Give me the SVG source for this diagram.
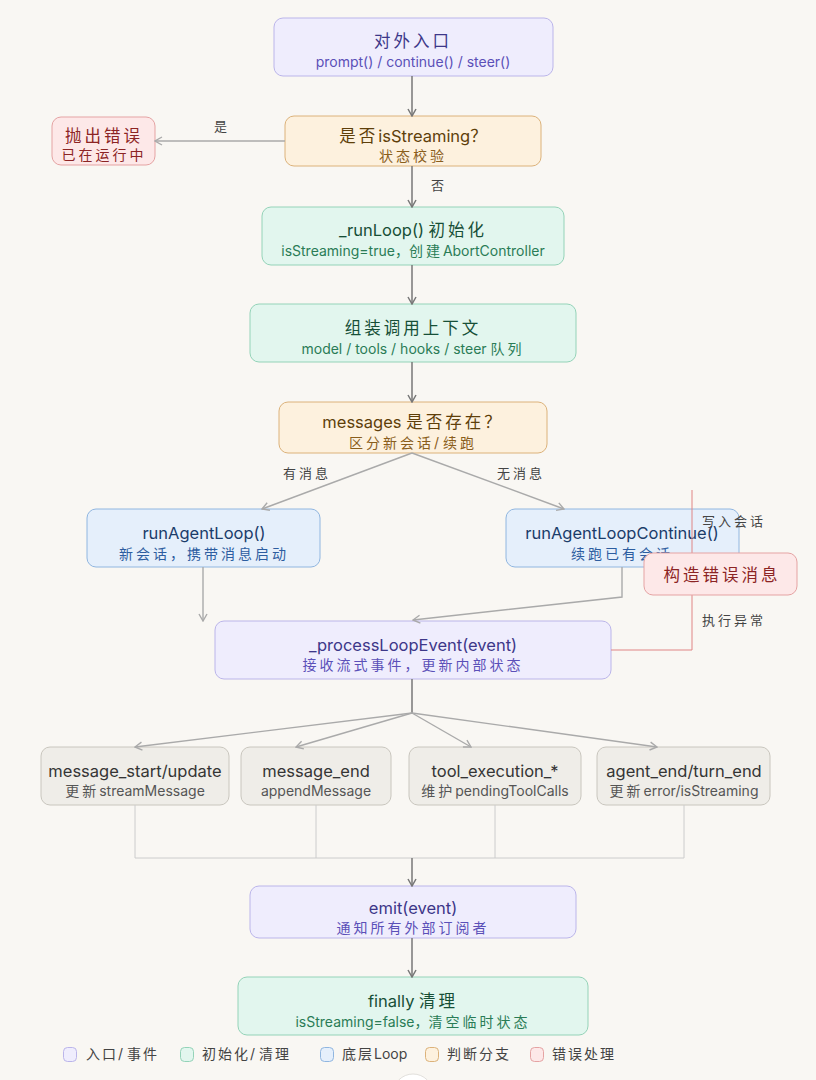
<svg xmlns="http://www.w3.org/2000/svg" width="816" height="1080" viewBox="0 0 816 1080">
<defs>
<style>
text{font-family:"Inter","Noto Sans CJK SC",sans-serif;text-anchor:middle}
.t{font-size:16.5px;font-weight:400}
.s{font-size:14px}
.cj{letter-spacing:3px}
.lbl{font-size:13px;fill:#444;letter-spacing:3px}
.lav rect{fill:#efedfd;stroke:#bbb5ea}
.lav .t{fill:#3d3789}.lav .s{fill:#5b50b8}
.org rect{fill:#fdf1de;stroke:#dcb27a}
.org .t{fill:#5e3f0a}.org .s{fill:#8a5e1c}
.grn rect{fill:#e2f6ee;stroke:#94d3b8}
.grn .t{fill:#174f37}.grn .s{fill:#2a7c56}
.blu rect{fill:#e5effb;stroke:#90b6e0}
.blu .t{fill:#1b3c6a}.blu .s{fill:#2d5da0}
.red rect{fill:#fde8e8;stroke:#e5a3a3}
.red .t{fill:#8c2424}.red .s{fill:#8c2424}
.gry rect{fill:#efede8;stroke:#c9c6be}
.gry .t{fill:#353535}.gry .s{fill:#555}
rect{stroke-width:1}
.dk{stroke:#777;stroke-width:1.5;fill:none}
.lt{stroke:#aaa;stroke-width:1.4;fill:none}
.th{stroke:#ccc;stroke-width:1;fill:none}
.rd{stroke:#e08585;stroke-width:1;fill:none}
.leg text{font-size:14px;fill:#444;text-anchor:start}
.leg .cj{letter-spacing:2px}
</style>
<marker id="ad" viewBox="0 0 10 10" refX="9" refY="5" markerWidth="10" markerHeight="10" markerUnits="userSpaceOnUse" orient="auto"><path d="M2,1 L9,5 L2,9" fill="none" stroke="#777" stroke-width="1.5"/></marker>
<marker id="al" viewBox="0 0 10 10" refX="9" refY="5" markerWidth="10" markerHeight="10" markerUnits="userSpaceOnUse" orient="auto"><path d="M2,1 L9,5 L2,9" fill="none" stroke="#aaa" stroke-width="1.4"/></marker>
</defs>
<rect width="816" height="1080" fill="#f9f7f3"/>

<g id="entry" class="lav"><rect x="274" y="18" width="279" height="58" rx="9"/>
<text class="t" x="413" y="47"><tspan class="cj">对外入口</tspan></text>
<text class="s" x="413" y="67">prompt() / continue() / steer()</text></g>

<g id="check" class="org"><rect x="285" y="116" width="256" height="50" rx="9"/>
<text class="t" x="413" y="142"><tspan class="cj">是否</tspan>isStreaming？</text>
<text class="s" x="413" y="161"><tspan class="cj">状态校验</tspan></text></g>

<g id="throw" class="red"><rect x="52" y="117" width="103" height="48" rx="9"/>
<text class="t" x="104" y="142"><tspan class="cj">抛出错误</tspan></text>
<text class="s" x="104" y="160"><tspan class="cj">已在运行中</tspan></text></g>

<g id="runloop" class="grn"><rect x="262" y="207" width="302" height="58" rx="9"/>
<text class="t" x="413" y="236">_runLoop() <tspan class="cj">初始化</tspan></text>
<text class="s" x="413" y="256">isStreaming=true，<tspan class="cj">创建</tspan>AbortController</text></g>

<g id="context" class="grn"><rect x="250" y="304" width="326" height="58" rx="9"/>
<text class="t" x="413" y="334"><tspan class="cj">组装调用上下文</tspan></text>
<text class="s" x="413" y="354">model / tools / hooks / steer <tspan class="cj">队列</tspan></text></g>

<g id="messages" class="org"><rect x="279" y="402" width="268" height="51" rx="9"/>
<text class="t" x="413" y="428">messages <tspan class="cj">是否存在？</tspan></text>
<text class="s" x="413" y="448"><tspan class="cj">区分新会话</tspan>/ <tspan class="cj">续跑</tspan></text></g>

<g id="agentloop" class="blu"><rect x="87" y="509" width="233" height="58" rx="9"/>
<text class="t" x="204" y="539">runAgentLoop()</text>
<text class="s" x="204" y="559"><tspan class="cj">新会话，携带消息启动</tspan></text></g>

<g id="agentloopcontinue" class="blu"><rect x="506" y="509" width="233" height="58" rx="9"/>
<text class="t" x="622" y="539">runAgentLoopContinue()</text>
<text class="s" x="622" y="559"><tspan class="cj">续跑已有会话</tspan></text></g>

<g id="process" class="lav"><rect x="215" y="621" width="396" height="58" rx="9"/>
<text class="t" x="413" y="651">_processLoopEvent(event)</text>
<text class="s" x="413" y="670"><tspan class="cj">接收流式事件，更新内部状态</tspan></text></g>

<g id="ev1" class="gry"><rect x="41" y="747" width="188" height="58" rx="9"/>
<text class="t" x="135" y="777">message_start/update</text>
<text class="s" x="135" y="796"><tspan class="cj">更新</tspan>streamMessage</text></g>

<g id="ev2" class="gry"><rect x="241" y="747" width="150" height="58" rx="9"/>
<text class="t" x="316" y="777">message_end</text>
<text class="s" x="316" y="796">appendMessage</text></g>

<g id="ev3" class="gry"><rect x="409" y="747" width="172" height="58" rx="9"/>
<text class="t" x="495" y="777">tool_execution_*</text>
<text class="s" x="495" y="796"><tspan class="cj">维护</tspan>pendingToolCalls</text></g>

<g id="ev4" class="gry"><rect x="597" y="747" width="173" height="58" rx="9"/>
<text class="t" x="684" y="777">agent_end/turn_end</text>
<text class="s" x="684" y="796"><tspan class="cj">更新</tspan>error/isStreaming</text></g>

<g id="emit" class="lav"><rect x="250" y="886" width="326" height="52" rx="9"/>
<text class="t" x="413" y="914">emit(event)</text>
<text class="s" x="413" y="933"><tspan class="cj">通知所有外部订阅者</tspan></text></g>

<g id="finally" class="grn"><rect x="238" y="977" width="350" height="58" rx="9"/>
<text class="t" x="413" y="1007">finally <tspan class="cj">清理</tspan></text>
<text class="s" x="413" y="1027">isStreaming=false，<tspan class="cj">清空临时状态</tspan></text></g>

<g id="connectors">
<path class="dk" d="M412,76 V116" marker-end="url(#ad)"/>
<path class="lt" d="M285,141 H155" marker-end="url(#al)"/>
<path class="dk" d="M412,166 V207" marker-end="url(#ad)"/>
<path class="dk" d="M412,265 V304" marker-end="url(#ad)"/>
<path class="dk" d="M412,362 V402" marker-end="url(#ad)"/>
<path class="lt" d="M412,453 L262,509" marker-end="url(#al)"/>
<path class="lt" d="M412,453 L564,509" marker-end="url(#al)"/>
<path class="lt" d="M203,567 V621" marker-end="url(#al)"/>
<path class="lt" d="M622,567 V597 L413,620" marker-end="url(#al)"/>
<path class="rd" d="M611,650 H692 V490"/>
<path class="dk" d="M412,679 V713"/>
<path class="lt" d="M412,713 L135,747" marker-end="url(#al)"/>
<path class="lt" d="M412,713 L296,747" marker-end="url(#al)"/>
<path class="lt" d="M412,713 L471,747" marker-end="url(#al)"/>
<path class="lt" d="M412,713 L657,747" marker-end="url(#al)"/>
<path class="th" d="M135,805 V858 M316,805 V858 M495,805 V858 M684,805 V858 M135,858 H684"/>
<path class="dk" d="M412,858 V886" marker-end="url(#ad)"/>
<path class="dk" d="M412,938 V977" marker-end="url(#ad)"/>
<text class="lbl" x="222" y="131">是</text>
<text class="lbl" x="439" y="190">否</text>
<text class="lbl" x="307" y="478">有消息</text>
<text class="lbl" x="521" y="478">无消息</text>
<text class="lbl" x="702" y="526" style="text-anchor:start">写入会话</text>
<text class="lbl" x="702" y="625" style="text-anchor:start">执行异常</text>
</g>

<g id="errmsg" class="red"><rect x="644" y="553" width="153" height="42" rx="9"/>
<text class="t" x="722" y="581"><tspan class="cj">构造错误消息</tspan></text></g>

<g id="legend" class="leg">
<rect x="63.5" y="1047.5" width="13" height="14" rx="4" fill="#efedfd" stroke="#bbb5ea"/>
<text x="86" y="1059"><tspan class="cj">入口</tspan>/ <tspan class="cj">事件</tspan></text>
<rect x="180.5" y="1047.5" width="13" height="14" rx="4" fill="#e2f6ee" stroke="#94d3b8"/>
<text x="202" y="1059"><tspan class="cj">初始化</tspan>/ <tspan class="cj">清理</tspan></text>
<rect x="320.5" y="1047.5" width="13" height="14" rx="4" fill="#e5effb" stroke="#90b6e0"/>
<text x="342" y="1059"><tspan class="cj">底层</tspan>Loop</text>
<rect x="425.5" y="1047.5" width="13" height="14" rx="4" fill="#fdf1de" stroke="#dcb27a"/>
<text x="447" y="1059"><tspan class="cj">判断分支</tspan></text>
<rect x="530.5" y="1047.5" width="13" height="14" rx="4" fill="#fde8e8" stroke="#e5a3a3"/>
<text x="552" y="1059"><tspan class="cj">错误处理</tspan></text>
</g>
<circle cx="413" cy="1094" r="20" fill="#ffffff" stroke="#e2e0dc"/>
</svg>
